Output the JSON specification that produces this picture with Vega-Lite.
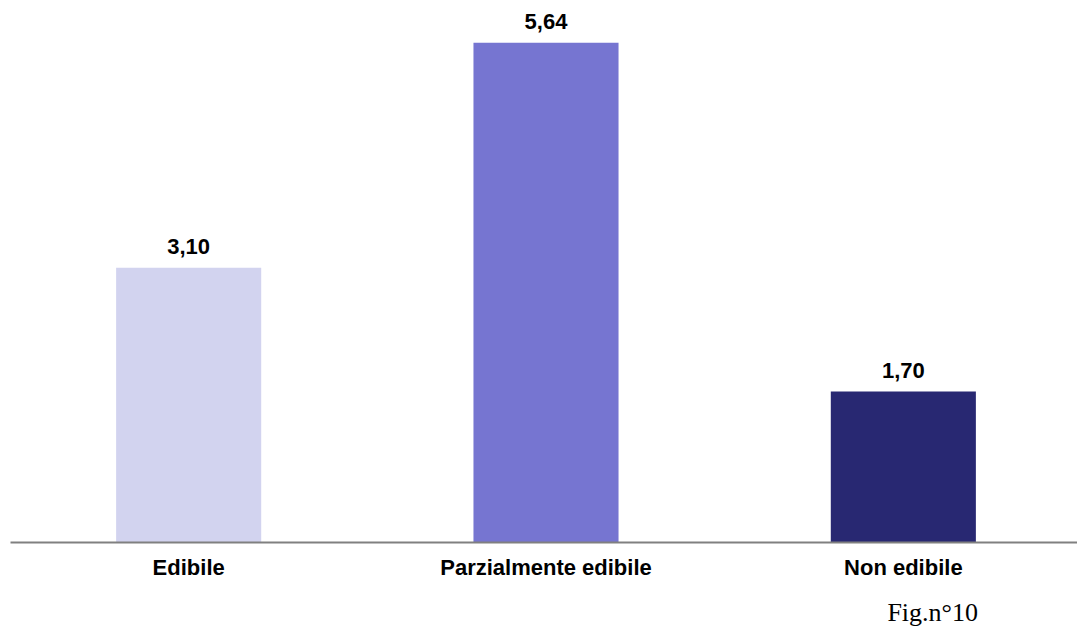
{
  "$schema": "https://vega.github.io/schema/vega-lite/v6.json",
  "width": 1072,
  "height": 542,
  "autosize": {"type": "none"},
  "padding": {"left": 10, "top": 0, "right": 0, "bottom": 86},
  "background": "white",
  "config": {"view": {"stroke": null}},
  "title": {
    "text": "Fig.n°10",
    "orient": "bottom",
    "anchor": "end",
    "font": "Liberation Serif",
    "fontSize": 26,
    "fontWeight": "normal",
    "color": "#000000",
    "dx": -104,
    "offset": 22
  },
  "data": {
    "values": [
      {"categoria": "Edibile", "valore": 3.10, "etichetta": "3,10"},
      {"categoria": "Parzialmente edibile", "valore": 5.64, "etichetta": "5,64"},
      {"categoria": "Non edibile", "valore": 1.70, "etichetta": "1,70"}
    ]
  },
  "encoding": {
    "x": {
      "field": "categoria",
      "type": "nominal",
      "sort": null,
      "scale": {"paddingInner": 0.594, "paddingOuter": 0.297},
      "axis": {
        "title": null,
        "labelAngle": 0,
        "labelFont": "Liberation Sans",
        "labelFontSize": 22,
        "labelFontWeight": "bold",
        "labelColor": "#000000",
        "labelPadding": 15,
        "labelLimit": 0,
        "ticks": false,
        "domainColor": "#808080",
        "domainWidth": 2,
        "zindex": 1
      }
    },
    "y": {
      "field": "valore",
      "type": "quantitative",
      "scale": {"domain": [0, 6.124], "nice": false},
      "axis": null
    }
  },
  "layer": [
    {
      "mark": {"type": "bar"},
      "encoding": {
        "color": {
          "field": "categoria",
          "type": "nominal",
          "sort": null,
          "scale": {
            "domain": ["Edibile", "Parzialmente edibile", "Non edibile"],
            "range": ["#D2D3EF", "#7675D1", "#282872"]
          },
          "legend": null
        }
      }
    },
    {
      "mark": {
        "type": "text",
        "baseline": "alphabetic",
        "dy": -14,
        "font": "Liberation Sans",
        "fontSize": 22,
        "fontWeight": "bold",
        "color": "#000000"
      },
      "encoding": {"text": {"field": "etichetta"}}
    }
  ]
}
